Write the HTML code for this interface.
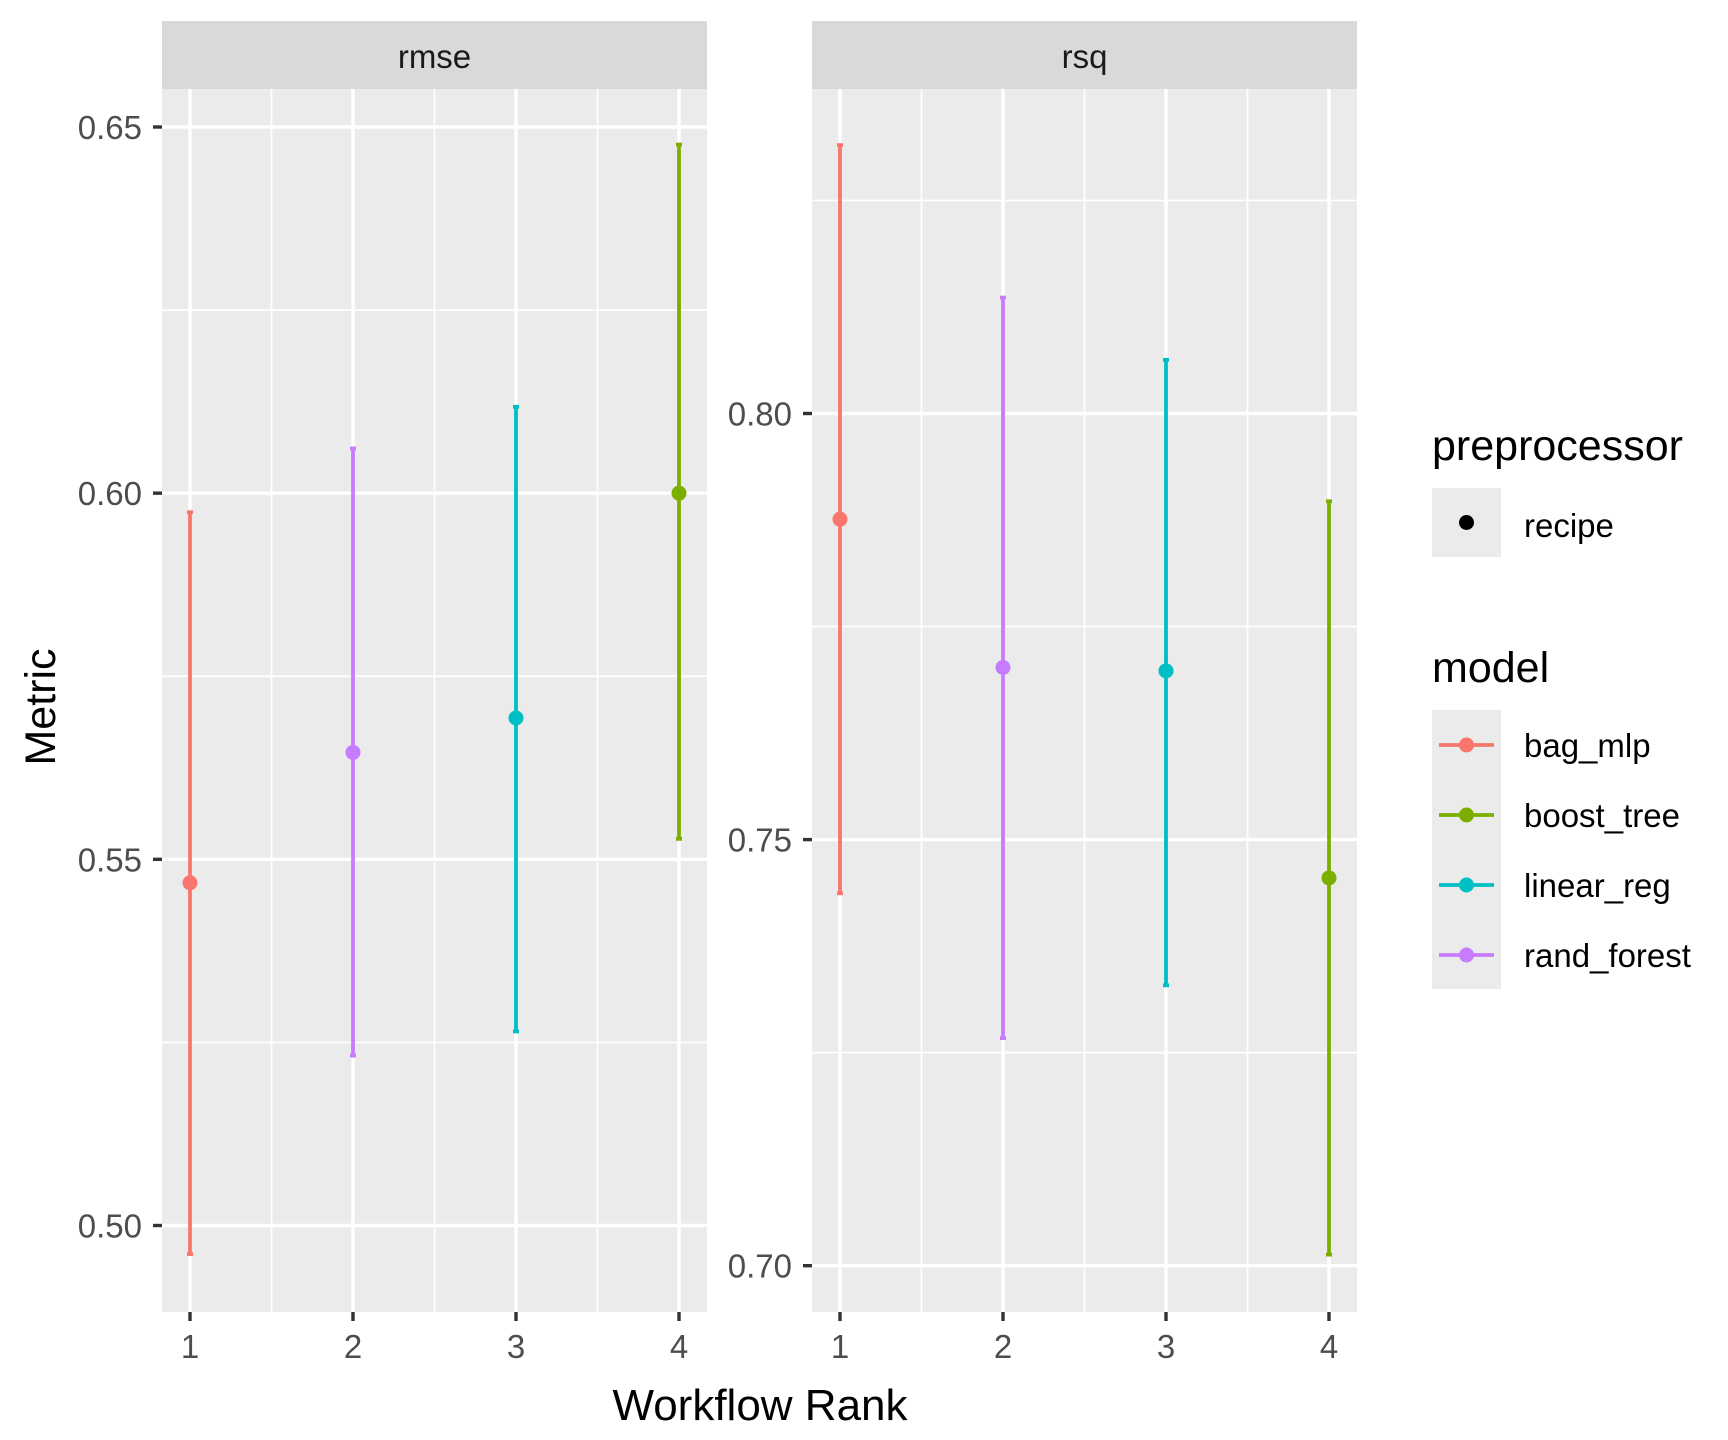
<!DOCTYPE html>
<html><head><meta charset="utf-8"><style>html,body{margin:0;padding:0;background:#fff}svg{display:block}text{font-family:"Liberation Sans",sans-serif}</style></head>
<body>
<svg id="chart" width="1728" height="1440" viewBox="0 0 1728 1440" xmlns="http://www.w3.org/2000/svg">
<g id="root"></g>
</svg>
<script>
const ranks = [1, 2, 3, 4];
const models = ["bag_mlp", "rand_forest", "linear_reg", "boost_tree"];
const rmseMean = [0.5468, 0.5646, 0.5693, 0.6000];
const rmseLow = [0.4961, 0.5232, 0.5265, 0.5528];
const rmseHigh = [0.5974, 0.6061, 0.6118, 0.6476];
const rsqMean = [0.7876, 0.7702, 0.7698, 0.7455];
const rsqLow = [0.7437, 0.7267, 0.7329, 0.7013];
const rsqHigh = [0.8315, 0.8136, 0.8063, 0.7897];
const rmseTicks = [0.50, 0.55, 0.60, 0.65];
const rsqTicks = [0.70, 0.75, 0.80];
const legendModels = ["bag_mlp", "boost_tree", "linear_reg", "rand_forest"];
const colors = {bag_mlp:"#F8766D", boost_tree:"#7CAE00", linear_reg:"#00BFC4", rand_forest:"#C77CFF"};

const NS = "http://www.w3.org/2000/svg";
const root = document.getElementById("root");
function mk(tag, attrs, parent){const e=document.createElementNS(NS,tag);for(const k in attrs)e.setAttribute(k,attrs[k]);(parent||root).appendChild(e);return e;}

const panels = [
  {name:"rmse", x0:162, x1:707, mean:rmseMean, low:rmseLow, high:rmseHigh, ticks:rmseTicks, v0:0.65, p0:127, v1:0.50, p1:1225.5},
  {name:"rsq", x0:812, x1:1357, mean:rsqMean, low:rsqLow, high:rsqHigh, ticks:rsqTicks, v0:0.80, p0:413.5, v1:0.70, p1:1265.7}
];
const yTop=89, yBot=1312;

panels.forEach(p=>{
  const g = mk("g",{});
  
  
  const xs = r => p.x0 + 28 + (r-1)*163;
  const ys = v => p.p0 + (v-p.v0)*(p.p1-p.p0)/(p.v1-p.v0);
  const bg = mk("rect",{x:p.x0,y:yTop,width:p.x1-p.x0,height:yBot-yTop,fill:"#EBEBEB"},g);
  
  
  const strip = mk("rect",{x:p.x0,y:21,width:p.x1-p.x0,height:68,fill:"#D9D9D9"},g);
  
  
  const st = mk("text",{x:(p.x0+p.x1)/2,y:68,"text-anchor":"middle","font-size":33,fill:"#1A1A1A"},g);
  st.textContent = p.name;
  
  
  const step = p.ticks[1]-p.ticks[0];
  for(let v=p.ticks[0]-step/2; v<=p.ticks[p.ticks.length-1]+step; v+=step){
    const y=ys(v); if(y<yTop||y>yBot) continue;
    mk("line",{x1:p.x0,x2:p.x1,y1:y,y2:y,stroke:"#fff","stroke-width":1.7},g);
  }
  for(let r=1.5;r<4;r++) mk("line",{x1:xs(r),x2:xs(r),y1:yTop,y2:yBot,stroke:"#fff","stroke-width":1.7},g);
  p.ticks.forEach(v=>{
    const y=ys(v);
    mk("line",{x1:p.x0,x2:p.x1,y1:y,y2:y,stroke:"#fff","stroke-width":3.4},g);
    mk("line",{x1:p.x0-9,x2:p.x0,y1:y,y2:y,stroke:"#333","stroke-width":3.4},g);
    const t=mk("text",{x:p.x0-20,y:y+12,"text-anchor":"end","font-size":33,fill:"#4D4D4D"},g);
    t.textContent=v.toFixed(2);
    
    
  });
  ranks.forEach(r=>{
    const x=xs(r);
    mk("line",{x1:x,x2:x,y1:yTop,y2:yBot,stroke:"#fff","stroke-width":3.4},g);
    mk("line",{x1:x,x2:x,y1:yBot,y2:yBot+9,stroke:"#333","stroke-width":3.4},g);
    const t=mk("text",{x:x,y:1358,"text-anchor":"middle","font-size":33,fill:"#4D4D4D"},g);
    t.textContent=r;
    
    
  });
  ranks.forEach((r,i)=>{
    const x=xs(r), c=colors[models[i]];
    const eb=mk("g",{},g);
    
    
    mk("line",{x1:x,x2:x,y1:ys(p.low[i]),y2:ys(p.high[i]),stroke:c,"stroke-width":3.8},eb);
    mk("line",{x1:x-3,x2:x+3,y1:ys(p.low[i]),y2:ys(p.low[i]),stroke:c,"stroke-width":3.8},eb);
    mk("line",{x1:x-3,x2:x+3,y1:ys(p.high[i]),y2:ys(p.high[i]),stroke:c,"stroke-width":3.8},eb);
    const pt=mk("circle",{cx:x,cy:ys(p.mean[i]),r:7.5,fill:c},g);
    
    
  });
});

const xt=mk("text",{x:760,y:1420,"text-anchor":"middle","font-size":44,fill:"#000"});
xt.textContent="Workflow Rank";


const yt=mk("text",{x:0,y:0,"text-anchor":"middle","font-size":43,fill:"#000",transform:"translate(55,707) rotate(-90)"});
yt.textContent="Metric";



const lg=mk("g",{});


const t1=mk("text",{x:1432,y:460,"font-size":43,fill:"#000"},lg);
t1.textContent="preprocessor";


mk("rect",{x:1432,y:488,width:69,height:69,fill:"#EBEBEB"},lg);
mk("circle",{cx:1466.5,cy:522.5,r:7.5,fill:"#000"},lg);
const rt=mk("text",{x:1524,y:537,"font-size":33,fill:"#000"},lg);
rt.textContent="recipe";


const t2=mk("text",{x:1432,y:682,"font-size":43,fill:"#000"},lg);
t2.textContent="model";


mk("rect",{x:1432,y:710,width:69,height:279,fill:"#EBEBEB"},lg);
legendModels.forEach((m,i)=>{
  const cy=745+i*70, c=colors[m];
  const e=mk("g",{},lg);
  
  
  mk("line",{x1:1439,x2:1494,y1:cy,y2:cy,stroke:c,"stroke-width":3.8},e);
  mk("circle",{cx:1466.5,cy:cy,r:7.5,fill:c},e);
  const t=mk("text",{x:1524,y:cy+12,"font-size":33,fill:"#000"},e);
  t.textContent=m;
});
</script>
</body></html>
